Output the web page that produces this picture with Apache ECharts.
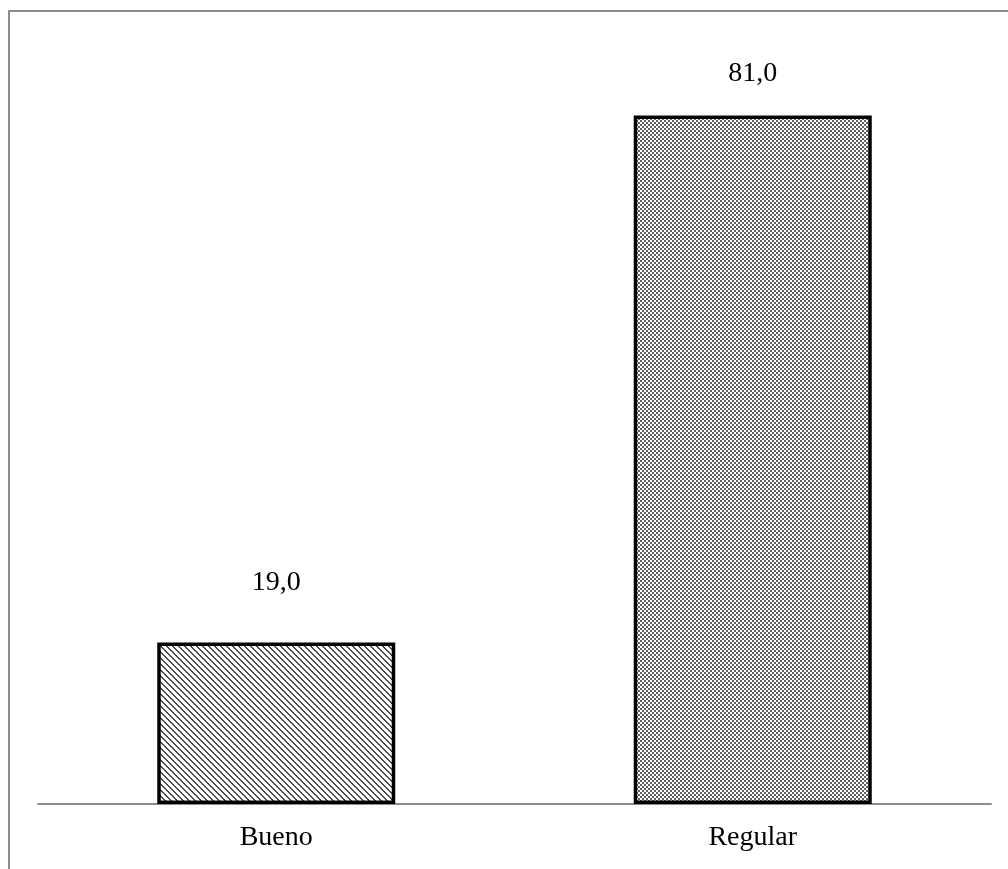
<!DOCTYPE html>
<html>
<head>
<meta charset="utf-8">
<script src="https://cdn.jsdelivr.net/npm/echarts@6/dist/echarts.min.js"></script>
<style>
html,body{margin:0;padding:0;background:#fff;}
#chart{width:1008px;height:869px;}
</style>
</head>
<body>
<div id="chart"></div>
<script>
const categories = ['Bueno', 'Regular'];
const values = [19.0, 81.0];
const labelTexts = ['19,0', '81,0'];

function makeStripe() {
  const c = document.createElement('canvas');
  c.width = 6; c.height = 6;
  const ctx = c.getContext('2d');
  ctx.fillStyle = '#ffffff';
  ctx.fillRect(0, 0, 6, 6);
  ctx.fillStyle = '#4a4a4a';
  for (let y = 0; y < 6; y++) {
    for (let x = 0; x < 6; x++) {
      const d = ((x - y) % 6 + 6) % 6;
      if (d === 0 || d === 1) ctx.fillRect(x, y, 1, 1);
    }
  }
  return c;
}
function makeChecker() {
  const c = document.createElement('canvas');
  c.width = 4; c.height = 4;
  const ctx = c.getContext('2d');
  ctx.fillStyle = '#ffffff';
  ctx.fillRect(0, 0, 4, 4);
  ctx.fillStyle = '#606060';
  ctx.fillRect(0, 0, 2, 2);
  ctx.fillRect(2, 2, 2, 2);
  return c;
}
const patterns = [makeStripe(), makeChecker()];
const labelDist = [46, 28];

const chart = echarts.init(document.getElementById('chart'), null, {renderer: 'canvas'});
chart.setOption({
  animation: false,
  backgroundColor: '#ffffff',
  grid: {left: 38, right: 17, top: 39, bottom: 65},
  graphic: [
    {type: 'polyline', shape: {points: [[9, 869], [9, 11], [1008, 11]]},
     style: {stroke: '#8c8c8c', lineWidth: 2, fill: null}, z: 0}
  ],
  xAxis: {
    type: 'category',
    data: categories,
    axisLine: {lineStyle: {color: '#8c8c8c', width: 2}},
    axisTick: {show: false},
    axisLabel: {color: '#000', fontFamily: 'Liberation Serif', fontSize: 28, margin: 20}
  },
  yAxis: {
    type: 'value', min: 0, max: 90, show: false,
    splitLine: {show: false}
  },
  series: [{
    type: 'bar',
    barWidth: 238,
    data: values.map((v, i) => ({
      value: v,
      itemStyle: {color: {image: patterns[i], repeat: 'repeat'}, borderColor: '#000', borderWidth: 3.5},
      label: {show: true, position: 'top', distance: labelDist[i], formatter: labelTexts[i],
              color: '#000', fontFamily: 'Liberation Serif', fontSize: 28}
    }))
  }]
});
</script>
</body>
</html>
